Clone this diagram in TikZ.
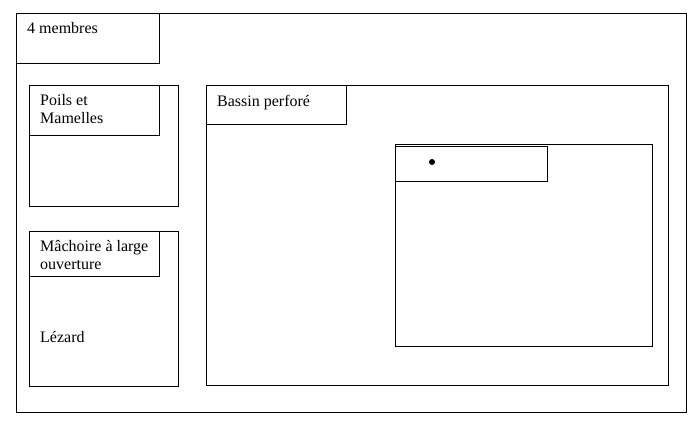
\documentclass[tikz,border=0pt]{standalone}
\usepackage{fontspec}
\setmainfont{Liberation Serif}
\begin{document}
\begin{tikzpicture}[x=1pt,y=-1pt,
  box/.style={draw,line width=1.1pt,rectangle,inner sep=0pt,anchor=north west},
  txt/.style={anchor=base west,inner sep=0pt,font=\fontsize{16}{18.5}\selectfont,align=left}]
\useasboundingbox (0,0) rectangle (698,427);
% outer
\node[box,minimum width=670pt,minimum height=399pt] (outer) at (16,13) {};
\node[box,minimum width=143pt,minimum height=50pt] (membres) at (16,13) {};
\node[txt] (tmembres) at (27,34) {4 membres};
% Poils
\node[box,minimum width=149pt,minimum height=121pt] (poils) at (29,85) {};
\node[box,minimum width=130pt,minimum height=50pt] (poilslab) at (29,85) {};
\node[txt,anchor=north west] (tpoils) at (40,94) {Poils et\\Mamelles};
% Machoire
\node[box,minimum width=149pt,minimum height=155pt] (mach) at (29,231) {};
\node[box,minimum width=130pt,minimum height=45pt] (machlab) at (29,231) {};
\node[txt,anchor=north west] (tmach) at (40,240) {Mâchoire à large\\ouverture};
\node[txt] (tlez) at (40,342) {Lézard};
% Bassin
\node[box,minimum width=462pt,minimum height=300pt] (bassin) at (206,85) {};
\node[box,minimum width=140pt,minimum height=39pt] (bassinlab) at (206,85) {};
\node[txt] (tbassin) at (217,107) {Bassin perforé};
% inner
\node[box,minimum width=257pt,minimum height=202pt] (inner) at (395,144) {};
\node[box,minimum width=152pt,minimum height=35pt] (innerlab) at (395,146) {};
\node[circle,fill,inner sep=0pt,minimum size=6pt] (dot) at (432,162) {};
\end{tikzpicture}
\end{document}
